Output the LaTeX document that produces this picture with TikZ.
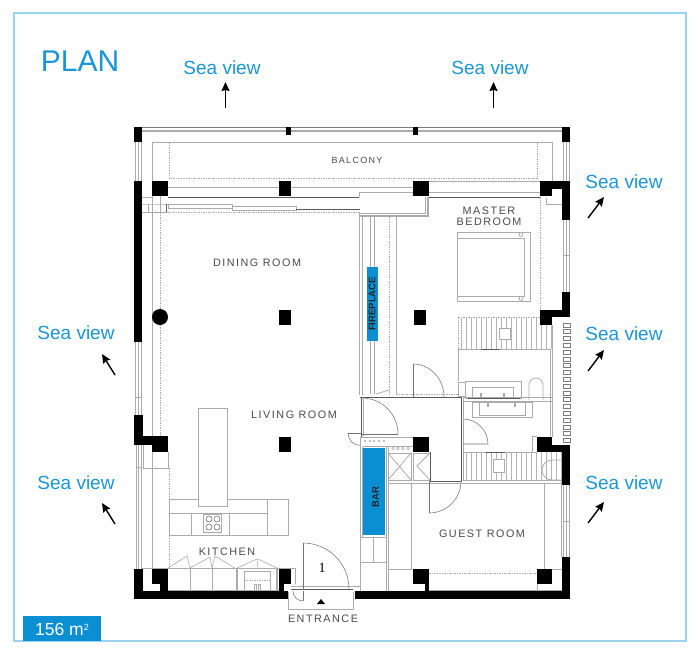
\documentclass[tikz,border=0pt]{standalone}
\usepackage{fontspec}
\setmainfont{Liberation Sans}
\usetikzlibrary{arrows.meta}
\newfontfamily\spaced[LetterSpace=14]{Liberation Sans}
\newfontfamily\serifone{Liberation Serif}
\definecolor{seablue}{HTML}{1A96D6}
\definecolor{framec}{HTML}{9AD2EE}
\definecolor{barblue}{HTML}{0B8FD3}
\definecolor{gl}{HTML}{ABABAB}
\definecolor{gd}{HTML}{5A5A5A}
\definecolor{lab}{HTML}{4A4A4A}
\tikzset{
  thin grey/.style={draw=gl,line width=0.8pt},
  pale/.style={draw=gl,line width=0.6pt},
  thick grey/.style={draw=gl,line width=1.3pt},
  dark/.style={draw=gd,line width=0.9pt},
  doorline/.style={draw=gd!85,line width=0.55pt},
  dots/.style={draw=gl,line width=0.6pt,dash pattern=on 1.5pt off 1pt},
  blk/.style={fill=black},
  seatext/.style={text=seablue,font=\fontsize{19}{21}\selectfont,inner sep=0pt},
  roomtext/.style={text=lab,font=\spaced\fontsize{10.8}{12}\selectfont,inner sep=0pt,align=center},
  smallroom/.style={text=lab,font=\spaced\fontsize{9}{10}\selectfont,inner sep=0pt},
  seaarrow/.style={-{Stealth[length=9pt,width=8pt,inset=1pt]},line width=1.4pt,black},
  slat/.style={draw=gd!80,fill=white,line width=0.8pt},
  bluetext/.style={text=black!85,font=\bfseries\fontsize{9.5}{11}\selectfont,inner sep=0pt,rotate=90}
}
\begin{document}
\begin{tikzpicture}[x=1pt,y=-1pt]
\useasboundingbox (0,0) rectangle (700,654);
\fill[white] (0,0) rectangle (700,654);
% frame and badge
\draw[framec,line width=1.2pt] (14,13) rectangle (686,641);
\fill[barblue] (23,616) rectangle (101,641);
\node[text=white,font=\fontsize{17.5}{20}\selectfont,inner sep=0pt] (area) at (62,629) {156 m\raisebox{5pt}{\fontsize{9}{9}\selectfont 2}};
\node[text=seablue,font=\fontsize{30}{32}\selectfont,inner sep=0pt] (plan) at (80,61) {PLAN};
% blue blocks
\fill[barblue] (366.5,267) rectangle (378,341);
\fill[barblue] (363,448) rectangle (385,535);
% balcony and outer glazing
\draw[dark,draw=gd!80] (142,127.5) -- (562,127.5);
\draw[gl,line width=2pt] (142,131) -- (562,131);
\draw[thin grey] (152,181) -- (152,142) -- (552,142) -- (552,181);
\draw[dots] (169,142) rectangle (537,178);
\foreach \x in {135.5,138,141.5}{\draw[thin grey] (\x,142) -- (\x,181);}
\foreach \x in {563.5,566,569.5}{\draw[thin grey] (\x,142) -- (\x,181);}
% upper walls
\draw[thin grey] (429,181) -- (540,181);
\draw[thin grey] (168,187) -- (279,187) (291,187) -- (413,187);
\draw[thin grey] (359,197) -- (359,192) -- (413,192) (429,192) -- (540,192);
\draw[dark] (168,197) -- (359,197) (429,197) -- (540,197);
\draw[thin grey] (142,197) -- (152,197) (142,204) -- (168,204) -- (232,204) (142,212) -- (168,212);
\draw[thin grey] (148,204) -- (148,212) (152,196) -- (152,580) (160,196) -- (160,212);
\draw[thin grey] (168,204) rectangle (232,208);
\draw[thin grey] (232,206) rectangle (296,210);
\draw[dark] (166,204) -- (166,212);
\draw[dark] (296,209) -- (360,209);
\draw[dots] (168,212) -- (360,212);
\draw[dots] (160,212) -- (160,436);
\draw[thick grey] (360,216) -- (428,216) -- (428,197);
\draw[thin grey] (360,213) -- (425,213) -- (425,197);
% fireplace wall
\draw[thin grey] (359,212) -- (359,395) (362,216) -- (362,395);
\draw[thick grey] (370.5,216) -- (370.5,267) (374.5,216) -- (374.5,267);
\draw[thick grey] (370.5,341) -- (370.5,394) (374.5,341) -- (374.5,394);
\draw[dots] (389,216) -- (389,394);
\draw[thin grey] (396.5,216) -- (396.5,394);
\draw[thin grey] (376,394) -- (389,390);
\draw[dots] (396,394) -- (458,394);
% hall room
\draw[dark] (360,397) -- (461,397) -- (461,481) -- (430,481);
\draw[dark] (361,397) -- (361,437);
\draw[thin grey] (363,399) -- (363,436);
\draw[thin grey] (463,397) -- (463,481);
\draw[doorline] (413,364) -- (413,397);
\draw[doorline] (413,364) arc (-90:0:31 and 33);
\draw[doorline] (398,434) -- (362,434);
\draw[doorline] (362,398) arc (-90:0:36);
\draw[doorline] (348,433) -- (361,433);
\draw[doorline] (348,433) arc (180:90:12.5);
% counter and bar
\draw[thin grey] (361,437) -- (413,437) (363,446) -- (388,446);
\draw[thin grey] (388,452) -- (388,446) -- (413,446);
\foreach \x in {365,370,374,379,384}{\fill[gl] (\x,441) circle (1.1);}
\foreach \x in {393,398,403,408}{\draw[gl,line width=.5pt,fill=white] (\x,448.5) circle (1.2);}
\draw[thin grey] (362,447) -- (362,537) (386,446) -- (386,591) (388.5,452) -- (388.5,591);
\draw[thin grey] (388,453) rectangle (411,480);
\draw[thin grey] (388,453) -- (411,480) (411,453) -- (388,480);
\draw[thin grey] (413,453) rectangle (430,480);
\draw[thin grey] (430,453) -- (417,466) -- (430,480);
\draw[dark] (430,452) -- (430,481);
\draw[thin grey] (360,537) rectangle (386,562);
\draw[thin grey] (373,537) -- (373,562);
\draw[thin grey] (360,562) rectangle (386,591);
\draw[thin grey] (360,437) -- (360,591);
% guest room
\draw[thin grey] (388,483) rectangle (411,569.5);
\draw[thin grey] (388,483) -- (562,483);
\draw[doorline] (429,481) -- (429,513);
\draw[doorline] (461,481) arc (0:90:32);
\draw[dots] (429,573) -- (537,573);
\draw[thin grey] (544,483) -- (544,569) (552,569) -- (562,569);
\draw[thin grey] (429,590) -- (562,590) (537,584) -- (537,590);
\draw[thin grey] (561,481) -- (561,557);
\foreach \x in {563.5,566,569.5}{\draw[thin grey] (\x,485) -- (\x,557);}
\draw[thin grey] (563.5,521) -- (569.5,521);
% master bedroom
\draw[dots] (540,197) -- (540,310);
\draw[thin grey] (546,198) -- (546,204) -- (562,204);
\draw[thin grey] (457,232) rectangle (530,301);
\draw[thin grey] (457,238) -- (524,238) -- (524,296) -- (457,296);
\draw[thin grey,fill=white] (521,234.5) circle (2);
\draw[thin grey,fill=white] (521,298.5) circle (2);
\foreach \x in {563.5,566,569.5}{\draw[thin grey] (\x,220) -- (\x,292);}
\draw[thin grey] (563.5,255) -- (569.5,255);
\foreach \n in {0,...,17}{\draw[slat] (563,{323+6.8*\n}) rectangle (570,{327+6.8*\n});}
% upper bath
\foreach \x in {461,466,...,551}{\draw[gl!90,line width=.5pt] (\x,318) -- (\x,349);}
\draw[dots] (458,317) -- (540,317) (458,317) -- (458,349);
\draw[thin grey,fill=white] (499,328) rectangle (510,339);
\draw[thin grey] (458,349) -- (551,349);
\draw[dark] (481,349) -- (499,349);
\draw[thin grey] (458,349) -- (458,381) (550,349) -- (550,437) (552,325) -- (552,437);
\draw[thin grey] (458,382) rectangle (465,396);
\draw[thin grey] (465,381) rectangle (521,398);
\draw[thin grey] (472,387) rectangle (513,398);
\draw[gl,line width=1.5pt] (481,393) -- (481,398) (504,393) -- (504,398);
\draw[thin grey] (463,397.5) -- (552,397.5);
\draw[dark] (468,398) -- (520,398);
\draw[thin grey] (463,401.5) -- (552,401.5);
\draw[thin grey] (529,400) -- (529,385) arc (180:360:7) -- (543,400);
\draw[thin grey] (472,402) rectangle (532,417);
\draw[thin grey] (479,402) rectangle (525,415);
\draw[gl,line width=1.5pt] (488,403) -- (488,407) (515,403) -- (515,407);
\draw[doorline] (463,419) arc (-90:0:25) -- (463,444);
\draw[thin grey] (532,436) -- (532,452) (532,436) -- (537,436);
% lower bath
\foreach \x in {466,471,...,561}{\draw[gl!90,line width=.5pt] (\x,452) -- (\x,481);}
\draw[thin grey] (463,452) -- (537,452);
\draw[dark] (486,452) -- (505,452);
\draw[thin grey,fill=white] (493,459) rectangle (504,472);
\draw[thin grey] (562,460) -- (552,460) arc (270:90:10) -- (562,480);
\draw[thin grey] (463,480.5) -- (562,480.5);
% left window
\foreach \x in {135.5,138,141.5}{\draw[thin grey] (\x,342) -- (\x,415);}
\draw[thin grey] (136,397) -- (142,397);
\foreach \x in {136,138.5,141}{\draw[thin grey] (\x,445) -- (\x,569);}
\draw[thin grey] (136,467) -- (142,467);
\draw[thin grey] (143,445) -- (143,468) -- (168,468) -- (168,452);
\draw[dots] (169,468) -- (169,568);
% kitchen
\draw[thin grey] (198,408) rectangle (227,506);
\draw[thin grey] (169,499) -- (198,499) (227,499) -- (288,499) -- (288,535) -- (169,535) -- (169,499);
\draw[thin grey] (169,513) -- (267,513) (267,499) -- (267,535) (191,513) -- (191,535) (229,513) -- (229,535);
\draw[thin grey] (203,514) rectangle (221,532);
\foreach \x/\y in {209/519,217/519,209/527,217/527}{\draw[gd,line width=.5pt] (\x,\y) circle (3);}
\draw[thin grey] (142,568) -- (295,568) (295,568) -- (295,584);
\draw[thin grey] (168,590) -- (279,590);
\draw[thin grey] (190,568) -- (190,590) (212,568) -- (212,590);
\draw[pale] (168,568) -- (187,556) -- (190,568) -- (210,557) -- (212,568) -- (215,556) -- (235,568);
\draw[pale] (237,568) -- (257,559) -- (258,568) (258,559) -- (277,568);
\draw[gl,line width=2pt,dash pattern=on 1.5pt off .5pt] (237,568) -- (237,590) (277,568) -- (277,590);
\draw[thin grey] (244,571) rectangle (270,590);
\draw[dots] (244,580) -- (270,580);
\draw[thin grey] (254,584) rectangle (256,590) (258,584) rectangle (260,590);
% entrance
\draw[dark] (291,589) -- (353,589);
\draw[thin grey] (288,592) -- (288,609.5) -- (353,609.5) -- (353,592);
\draw[thin grey] (291,586) -- (360,586);
\draw[doorline] (303,590) -- (303,543);
\draw[doorline] (303,543) arc (-90:0:46);
\draw[doorline] (303,591) -- (303,601);
\draw[doorline] (293,591) arc (180:90:10);
\fill[black] (317,604) -- (321,599) -- (325,604) -- cycle;
% black structure
\foreach \a/\b/\c/\d in {134/127/142/142, 562/127/570/142, 134/181/142/342,
  134/415/143/445, 134/436/152/445, 152/181/168/196, 279/181/291/196, 413/181/429/196,
  286/127/291/135, 413/127/418/135,
  279/310/291/325, 414/310/426/325, 279/437/291/452, 413/437/429/452, 152/436/168/452,
  540/181/552/196, 552/181/570/189, 562/181/570/220,
  540/310/552/325, 552/310/570/317, 562/292/570/317,
  537/437/552/452, 552/445/570/452, 562/445/570/485,
  134/569/143/599, 134/591/288/599, 152/569/168/584, 160/584/168/591, 279/569/291/584, 279/584/284/591,
  355/591/570/599, 562/557/570/599, 413/569/429/584, 425/584/429/591, 537/569/552/584}{
  \fill[blk] (\a,\b) rectangle (\c,\d);}
\fill[blk] (160,317) circle (8);
% labels
\node[smallroom] (balcony) at (357,160) {BALCONY};
\node[roomtext] (master) at (489,211) {MASTER};
\node[roomtext] (bedroom) at (489,222) {BEDROOM};
\node[roomtext] (dining) at (257,263) {DINING ROOM};
\node[roomtext] (living) at (294,415) {LIVING ROOM};
\node[roomtext] (kitchenlab) at (227,552) {KITCHEN};
\node[roomtext] (guest) at (482,534) {GUEST ROOM};
\node[roomtext] (entrance) at (323,619) {ENTRANCE};
\node[bluetext] (fire) at (372,304) {FIREPLACE};
\node[bluetext] (bar) at (375.5,497) {BAR};
\node[text=black,font=\serifone\fontsize{14}{15}\selectfont,inner sep=0pt] (one) at (322,568) {1};
% sea views
\node[seatext] (s1) at (222,68) {Sea view};
\node[seatext] (s2) at (490,68) {Sea view};
\node[seatext] (s3) at (624,182) {Sea view};
\node[seatext] (s4) at (624,334) {Sea view};
\node[seatext] (s5) at (624,483) {Sea view};
\node[seatext] (s6) at (76,333) {Sea view};
\node[seatext] (s7) at (76,483) {Sea view};
\coordinate (a1s) at (225.5,108); \coordinate (a1e) at (225.5,82);
\coordinate (a2s) at (493.5,108); \coordinate (a2e) at (493.5,82);
\coordinate (a3s) at (588,218); \coordinate (a3e) at (604,197);
\coordinate (a4s) at (588,371); \coordinate (a4e) at (604,350);
\coordinate (a5s) at (588,523); \coordinate (a5e) at (604,502);
\coordinate (a6s) at (115,375); \coordinate (a6e) at (102,354);
\coordinate (a7s) at (115,524); \coordinate (a7e) at (102,503);
\foreach \i in {1,...,7}{\draw[seaarrow] (a\i s) -- (a\i e);}
\end{tikzpicture}
\end{document}
